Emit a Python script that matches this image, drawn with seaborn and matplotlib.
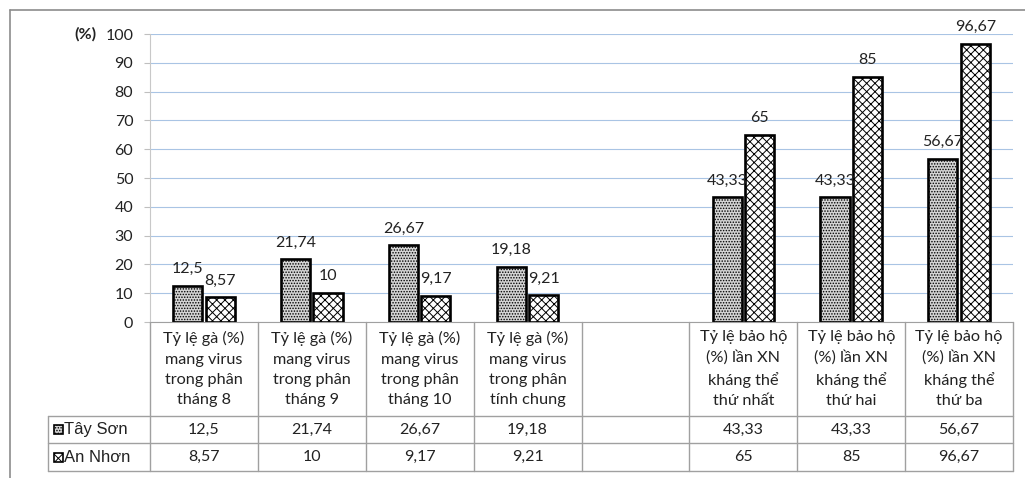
import matplotlib.pyplot as plt
import matplotlib.transforms as mtransforms
import pandas as pd
import seaborn as sns
from matplotlib.lines import Line2D
from matplotlib.patches import Rectangle

categories = [
    "Tỷ lệ gà (%)\nmang virus\ntrong phân\ntháng 8",
    "Tỷ lệ gà (%)\nmang virus\ntrong phân\ntháng 9",
    "Tỷ lệ gà (%)\nmang virus\ntrong phân\ntháng 10",
    "Tỷ lệ gà (%)\nmang virus\ntrong phân\ntính chung",
    "",
    "Tỷ lệ bảo hộ\n(%) lần XN\nkháng thể\nthứ nhất",
    "Tỷ lệ bảo hộ\n(%) lần XN\nkháng thể\nthứ hai",
    "Tỷ lệ bảo hộ\n(%) lần XN\nkháng thể\nthứ ba",
]
tay_son = [12.5, 21.74, 26.67, 19.18, None, 43.33, 43.33, 56.67]
an_nhon = [8.57, 10, 9.17, 9.21, None, 65, 85, 96.67]
series = ["Tây Sơn", "An Nhơn"]
y_ticks = list(range(0, 101, 10))

W, H = 1025, 478


def fx(px):
    return px / W


def fy(py):
    return 1 - py / H


def fmt(v):
    return "" if v is None else f"{v:g}".replace(".", ",")


rows = []
for name, vals in zip(series, [tay_son, an_nhon]):
    for cat, v in zip(categories, vals):
        if v is not None:
            rows.append({"cat": cat, "site": name, "val": v})
df = pd.DataFrame(rows)

sns.set_style("white")
plt.rcParams["font.family"] = ["Lato", "DejaVu Sans"]
plt.rcParams["hatch.linewidth"] = 0.7

txt = "#222222"
fig = plt.figure(figsize=(W / 100, H / 100), dpi=100)
ax = fig.add_axes([fx(150), fy(322), fx(1013) - fx(150), fy(34) - fy(322)])

sns.barplot(
    data=df, x="cat", y="val", hue="site",
    order=categories, hue_order=series,
    width=0.6, gap=0.1, legend=False, ax=ax,
)

styles = [("#d4d4d4", "......"), ("white", "xxxx")]
for cont, (fc, h) in zip(ax.containers, styles):
    for bar in cont:
        bar.set_facecolor(fc)
        bar.set_hatch(h)
        bar.set_edgecolor("black")
        bar.set_linewidth(1.9)

labels_by_series = [[fmt(v) for v in tay_son if v is not None],
                    [fmt(v) for v in an_nhon if v is not None]]
for cont, labs in zip(ax.containers, labels_by_series):
    ax.bar_label(cont, labels=labs, padding=7, fontsize=11.5, color=txt)

ax.set_xlim(-0.5, len(categories) - 0.5)
ax.set_ylim(0, 100)
ax.set_yticks(y_ticks)
ax.yaxis.grid(True, color="#a9c4e4", linewidth=0.8)
ax.set_axisbelow(True)
ax.set_xlabel("")
ax.set_ylabel("")
ax.set_xticks([])
ax.tick_params(axis="y", length=4, color="#bfbfbf", labelsize=11.5, pad=8,
               left=True, labelcolor=txt)
for s in ["top", "right"]:
    ax.spines[s].set_visible(False)
ax.spines["left"].set_color("#c8c8c8")
ax.spines["bottom"].set_color("#a0a0a0")

fig.text(fx(74), fy(34), "(%)", fontsize=11.5, fontweight="bold",
         ha="left", va="center", color=txt)

# data table under the axis
blend = mtransforms.blended_transform_factory(ax.transData, fig.transFigure)
tcol = "#a0a0a0"
row_y = [322, 416, 443, 471]
for i in range(len(categories) + 1):
    ax.add_line(Line2D([i - 0.5, i - 0.5], [fy(322), fy(471)], transform=blend,
                       color=tcol, lw=1, clip_on=False))
for py in row_y[1:]:
    fig.add_artist(Line2D([fx(48), fx(1013)], [fy(py), fy(py)], color=tcol, lw=1))
fig.add_artist(Line2D([fx(48), fx(48)], [fy(416), fy(471)], color=tcol, lw=1))

for i, cat in enumerate(categories):
    ax.text(i, fy(369), cat, transform=blend, ha="center", va="center",
            fontsize=11.7, linespacing=1.55, color=txt)

for r, (name, vals) in enumerate(zip(series, [tay_son, an_nhon])):
    yc = (row_y[r + 1] + row_y[r + 2]) / 2
    for i, v in enumerate(vals):
        ax.text(i, fy(yc), fmt(v), transform=blend, ha="center", va="center",
                fontsize=11.5, color=txt)
    fc, h = styles[r]
    fig.add_artist(Rectangle((fx(54), fy(yc + 4.5)), 9 / W, 9 / H,
                             transform=fig.transFigure, facecolor=fc, hatch=h,
                             edgecolor="black", linewidth=1.2))
    fig.text(fx(64), fy(yc), name, fontsize=12, ha="left", va="center",
             family=["Liberation Sans", "DejaVu Sans"], color=txt)

# outer chart frame (cut at right and bottom)
fig.add_artist(Line2D([fx(10), fx(10)], [fy(10), 0], color="#8c8c8c", lw=1.2))
fig.add_artist(Line2D([fx(10), 1], [fy(10), fy(10)], color="#8c8c8c", lw=1.2))

fig.savefig("out.png", dpi=100)
